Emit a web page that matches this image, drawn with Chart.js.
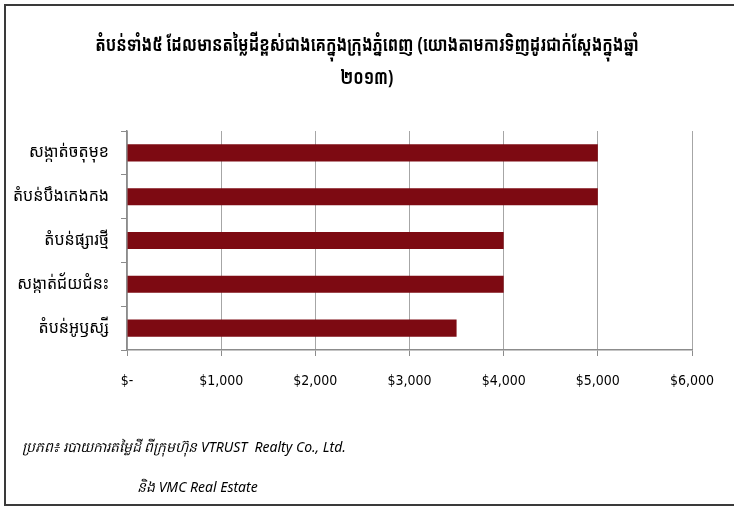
<!DOCTYPE html>
<html>
<head>
<meta charset="utf-8">
<script src="https://cdn.jsdelivr.net/npm/chart.js@4"></script>
<style>
  body { margin: 0; background: #fff; }
  .wrap { position: relative; width: 734px; height: 512px; overflow: hidden; }
  .frame { position: absolute; left: 4px; top: 4px; width: 760px; height: 502px;
           border: 2px solid #3a3a3a; border-right: none; box-sizing: border-box; }
  .title { position: absolute; left: 0; top: 27px; width: 734px; text-align: center;
           font-family: 'Noto Sans Khmer', 'Khmer OS', 'Noto Sans', sans-serif;
           font-weight: bold; font-size: 18px; line-height: 33px; color: #000; }
  .title span { display: inline-block; transform: scale(0.86, 1.1); white-space: nowrap; }
  .source { position: absolute; font-family: 'Noto Sans', sans-serif;
            font-style: italic; font-size: 14px; color: #000; white-space: nowrap; }
  canvas { position: absolute; left: 0; top: 0; }
</style>
</head>
<body>
<div class="wrap">
  <canvas id="myChart" width="734" height="512"></canvas>
  <div class="frame"></div>
  <div class="title" id="title"></div>
  <div class="source" style="left:22px; top:437px;">ប្រភព៖ របាយការតម្លៃដី ពីក្រុមហ៊ុន VTRUST&nbsp; Realty Co., Ltd.</div>
  <div class="source" style="left:137px; top:477px;">និង VMC Real Estate</div>
</div>
<script>
const titleLines = ['តំបន់ទាំង៥ ដែលមានតម្លៃដីខ្ពស់ជាងគេក្នុងក្រុងភ្នំពេញ (យោងតាមការទិញដូរជាក់ស្តែងក្នុងឆ្នាំ', '២០១៣)'];
const areas = ['សង្កាត់ចតុមុខ', 'តំបន់បឹងកេងកង', 'តំបន់ផ្សារថ្មី', 'សង្កាត់ជ័យជំនះ', 'តំបន់អូឫស្សី'];
const prices = [5000, 5000, 4000, 4000, 3500];
const xTicks = [0, 1000, 2000, 3000, 4000, 5000, 6000];

const fmtDollar = (v) => v === 0 ? '$-' : '$' + v.toLocaleString('en-US');

document.getElementById('title').innerHTML = titleLines.map(t => '<span>' + t + '</span>').join('<br>');

const ctx = document.getElementById('myChart');
const myChart = new Chart(ctx, {
  type: 'bar',
  data: {
    labels: areas,
    datasets: [{
      data: prices,
      backgroundColor: '#7d0a12',
      borderWidth: 0,
      categoryPercentage: 1,
      barPercentage: 0.39
    }]
  },
  options: {
    indexAxis: 'y',
    responsive: false,
    animation: false,
    layout: { padding: { top: 131, right: 42, bottom: 0, left: 0 } },
    plugins: {
      legend: { display: false },
      tooltip: { enabled: false },
      title: { display: false }
    },
    scales: {
      x: {
        min: 0,
        max: 6000,
        afterBuildTicks: (scale) => { scale.ticks = xTicks.map(v => ({ value: v })); },
        afterFit: (scale) => { scale.height = 162; },
        grid: { color: '#a6a6a6', lineWidth: 1, tickLength: 6, tickColor: '#8c8c8c' },
        border: { color: '#8c8c8c', width: 1.5 },
        ticks: {
          color: '#000',
          padding: 17,
          maxRotation: 0,
          font: { family: "'DejaVu Sans Condensed', 'Liberation Sans Narrow', sans-serif", size: 14 },
          callback: (v) => fmtDollar(v)
        }
      },
      y: {
        afterFit: (scale) => { scale.width = 127; },
        grid: { drawOnChartArea: false, offset: true, tickLength: 6, color: '#8c8c8c' },
        border: { color: '#8c8c8c', width: 1.5 },
        ticks: {
          color: '#000',
          padding: 12,
          font: { family: "'Noto Sans Khmer', 'Khmer OS', 'Noto Sans', sans-serif", size: 16 }
        }
      }
    }
  }
});
</script>
</body>
</html>
